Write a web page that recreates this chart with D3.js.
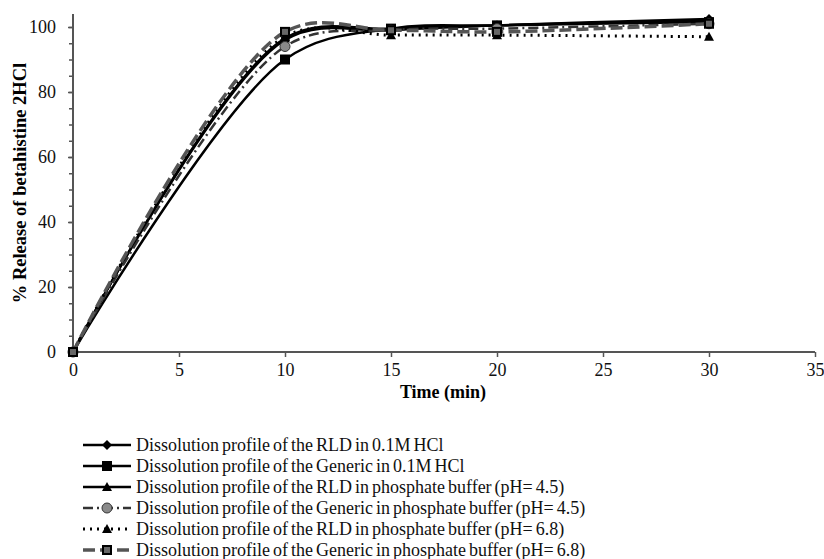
<!DOCTYPE html>
<html><head><meta charset="utf-8">
<script src="https://cdn.jsdelivr.net/npm/d3@7"></script>
<style>body{margin:0;background:#fff}svg{display:block}text{font-family:"Liberation Serif","Times New Roman",serif}</style>
</head><body><svg id="c" width="824" height="559"></svg>
<script>
const times = [0, 10, 15, 20, 30];
const seriesNames = [
  "Dissolution profile of the RLD in 0.1M HCl",
  "Dissolution profile of the Generic in 0.1M HCl",
  "Dissolution profile of the RLD in phosphate buffer (pH= 4.5)",
  "Dissolution profile of the Generic in phosphate buffer (pH= 4.5)",
  "Dissolution profile of the RLD in phosphate buffer (pH= 6.8)",
  "Dissolution profile of the Generic in phosphate buffer (pH= 6.8)"
];
const rldHCl   = [0, 96, 99, 100.5, 102.5];
const genHCl   = [0, 90, 99.5, 100.5, 101.5];
const rld45    = [0, 96.5, 99.5, 100.5, 102];
const gen45    = [0, 94, 99, 99.5, 101];
const rld68    = [0, 97, 97.5, 97.5, 97];
const gen68    = [0, 98.5, 99, 98.5, 101];
const xTicks = [0, 5, 10, 15, 20, 25, 30, 35];
const yTicks = [0, 20, 40, 60, 80, 100];
const yMinor = d3.range(0, 105, 5);

const styles = [
  {marker:"diamond", stroke:"#000", fill:"#000", dash:null, w:2.5},
  {marker:"square", stroke:"#000", fill:"#000", dash:null, w:2.5},
  {marker:"triangle", stroke:"#000", fill:"#000", dash:null, w:2.5},
  {marker:"circle", stroke:"#333", fill:"#8a8a8a", dash:"10,4,2,4", w:2.5},
  {marker:"triangle", stroke:"#000", fill:"#000", dash:"2,5", w:3},
  {marker:"squareg", stroke:"#555", fill:"#666", dash:"12,5", w:3.5}
];
const data = [rldHCl, genHCl, rld45, gen45, rld68, gen68];

const svg = d3.select("#c");
const x = d3.scaleLinear().domain([0, 35]).range([73, 815]);
const y = d3.scaleLinear().domain([0, 104]).range([352, 14]);

const xAxis = svg.append("g").attr("transform","translate(0,352)")
  .call(d3.axisBottom(x).tickValues(xTicks).tickSize(5).tickPadding(6));
const yAxis = svg.append("g").attr("transform","translate(73,0)")
  .call(d3.axisLeft(y).tickValues(yTicks).tickSize(5).tickPadding(12));
svg.append("g").attr("transform","translate(73,0)")
  .call(d3.axisLeft(y).tickValues(yMinor).tickSize(4).tickFormat(""))
  .select(".domain").remove();
svg.selectAll(".domain").attr("stroke","#555").attr("stroke-width",2);
svg.selectAll(".tick line").attr("stroke","#555").attr("stroke-width",1.5);
svg.selectAll(".tick text").attr("font-size",18).attr("fill","#111")
  .style("font-family",'"Liberation Serif",serif');
yAxis.select(".domain").attr("d","M0,14V352");
xAxis.select(".domain").attr("d","M73,0H815");

svg.append("text").attr("x",443).attr("y",398).attr("text-anchor","middle")
  .attr("font-size",18).attr("font-weight","bold").text("Time (min)");
svg.append("text").attr("transform","translate(26,183) rotate(-90)").attr("text-anchor","middle")
  .attr("font-size",18.5).attr("font-weight","bold").text("% Release of betahistine 2HCl");

const line = d3.line().x((d,i)=>x(times[i])).y(d=>y(d)).curve(d3.curveCatmullRom.alpha(0.5));

function marker(g, type, cx, cy, s) {
  const r = 5;
  if (type==="diamond") g.append("path").attr("d",`M${cx},${cy-r}L${cx+r},${cy}L${cx},${cy+r}L${cx-r},${cy}Z`).attr("fill",s.fill);
  else if (type==="square") g.append("rect").attr("x",cx-r).attr("y",cy-r).attr("width",2*r).attr("height",2*r).attr("fill",s.fill);
  else if (type==="squareg") g.append("rect").attr("x",cx-r+1).attr("y",cy-r+1).attr("width",2*r-2).attr("height",2*r-2).attr("fill",s.fill).attr("stroke","#000").attr("stroke-width",2);
  else if (type==="triangle") g.append("path").attr("d",`M${cx},${cy-r}L${cx+r},${cy+r-1}L${cx-r},${cy+r-1}Z`).attr("fill",s.fill);
  else if (type==="circle") g.append("circle").attr("cx",cx).attr("cy",cy).attr("r",r).attr("fill",s.fill).attr("stroke","#333").attr("stroke-width",1);
}

data.forEach((vals, k) => {
  const s = styles[k];
  svg.append("path").attr("d", line(vals)).attr("fill","none").attr("stroke",s.stroke)
    .attr("stroke-width",s.w).attr("stroke-dasharray",s.dash);
});
data.forEach((vals, k) => {
  const s = styles[k];
  const g = svg.append("g");
  vals.forEach((v,i)=>marker(g, s.marker, x(times[i]), y(v), s));
});

const lg = svg.append("g");
seriesNames.forEach((name,k)=>{
  const s = styles[k];
  const yy = 445 + k*21;
  lg.append("line").attr("x1",83).attr("x2",131).attr("y1",yy).attr("y2",yy)
    .attr("stroke",s.stroke).attr("stroke-width",s.w).attr("stroke-dasharray",s.dash);
  marker(lg, s.marker, 107, yy, s);
  lg.append("text").attr("x",136).attr("y",yy+5.5).attr("font-size",18)
    .attr("word-spacing",-1.5).attr("fill","#111").text(name);
});
</script></body></html>
